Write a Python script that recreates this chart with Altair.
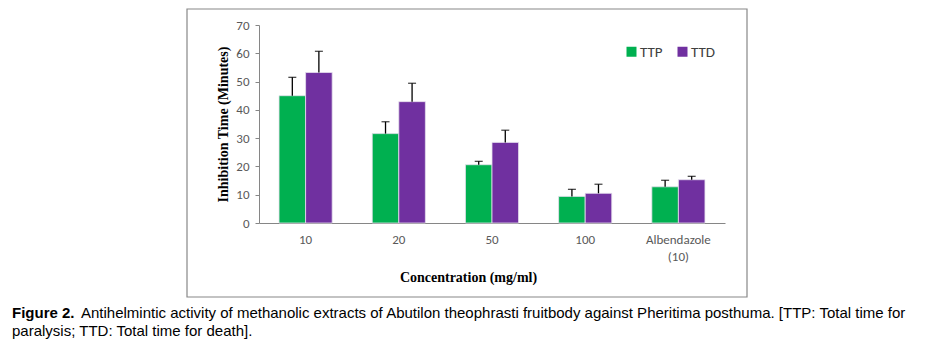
import altair as alt
import pandas as pd

categories = ["10", "20", "50", "100", "Albendazole (10)"]
series = ["TTP", "TTD"]
ttp = [45.0, 31.6, 20.6, 9.4, 12.8]
ttp_err = [6.5, 4.2, 1.2, 2.5, 2.3]
ttd = [53.2, 42.9, 28.5, 10.5, 15.3]
ttd_err = [7.5, 6.5, 4.3, 3.2, 1.2]
y_ticks = [0, 10, 20, 30, 40, 50, 60, 70]
colors = ["#00B050", "#7030A0"]

caption_bold = "Figure 2."
caption_line1 = ("Antihelmintic activity of methanolic extracts of Abutilon theophrasti "
                 "fruitbody against Pheritima posthuma. [TTP: Total time for")
caption_line2 = "paralysis; TTD: Total time for death]."

rows = []
for i, c in enumerate(categories):
    rows.append(dict(conc=c, series="TTP", value=ttp[i], upper=ttp[i] + ttp_err[i]))
    rows.append(dict(conc=c, series="TTD", value=ttd[i], upper=ttd[i] + ttd_err[i]))
df = pd.DataFrame(rows)

W, H = 466, 198
tick_font = "Carlito, Lato, Liberation Sans, sans-serif"
serif = "Liberation Serif, Times New Roman, serif"
cap_font = "Liberation Sans, Arial, sans-serif"

x_axis = alt.Axis(
    title="Concentration (mg/ml)", labelAngle=0, ticks=False,
    labelExpr="datum.value == 'Albendazole (10)' ? ['Albendazole', '(10)'] : datum.label",
    labelFont=tick_font, labelFontSize=13, labelColor="#595959",
    labelPadding=10, labelLineHeight=17,
    titleFont=serif, titleFontSize=14, titleFontWeight="bold", titleColor="#000000",
    titlePadding=7, titleX=209, titleAlign="center", domainColor="#868686",
)
x_scale = alt.Scale(paddingInner=0.43, paddingOuter=0.215)
y_axis = alt.Axis(
    title="Inhibition Time (Minutes)", values=y_ticks, tickCount=8, grid=False,
    labelOverlap=False, labelFlush=False,
    tickSize=4, tickColor="#868686", domainColor="#868686",
    labelFont=tick_font, labelFontSize=13, labelColor="#595959", labelPadding=6,
    titleFont=serif, titleFontSize=14, titleFontWeight="bold", titleColor="#000000",
    titlePadding=5,
)
y_scale = alt.Scale(domain=[0, 70], nice=False)

x_enc = alt.X("conc:N", sort=categories, scale=x_scale, axis=x_axis)
xo = alt.XOffset("series:N", sort=series, scale=alt.Scale(paddingInner=0, paddingOuter=0))

base = alt.Chart(df)
bars = base.mark_bar(stroke="#e6e0ee", strokeWidth=0.8).encode(
    x=x_enc, xOffset=xo,
    y=alt.Y("value:Q", scale=y_scale, axis=y_axis),
    color=alt.Color(
        "series:N", sort=series,
        scale=alt.Scale(domain=series, range=colors),
        legend=alt.Legend(
            title=None, orient="none", legendX=365, legendY=19, direction="horizontal",
            symbolType="square", symbolSize=100, symbolStrokeWidth=0,
            labelFont=tick_font, labelFontSize=15, labelColor="#404040",
            columnPadding=12, labelOffset=1, padding=0,
        ),
    ),
)
err = base.mark_rule(color="black", strokeWidth=1.3).encode(
    x=x_enc, xOffset=xo,
    y=alt.Y("value:Q", scale=y_scale, axis=y_axis), y2="upper:Q"
)
caps = base.mark_tick(color="black", thickness=1.3, size=8).encode(
    x=x_enc, xOffset=xo,
    y=alt.Y("upper:Q", scale=y_scale, axis=y_axis)
)

one = pd.DataFrame({"k": [0]})
box = alt.Chart(one).mark_rect(fill=None, stroke="#888888", strokeWidth=1.2).encode(
    x=alt.value(-72), x2=alt.value(488), y=alt.value(-16), y2=alt.value(272)
)
cap_b = alt.Chart(one).mark_text(
    text=caption_bold, font=cap_font, fontSize=15, fontWeight="bold",
    align="left", baseline="alphabetic", color="#000000"
).encode(x=alt.value(-247), y=alt.value(293))
cap_1 = alt.Chart(one).mark_text(
    text=caption_line1, font=cap_font, fontSize=15,
    align="left", baseline="alphabetic", color="#000000"
).encode(x=alt.value(-178), y=alt.value(293))
cap_2 = alt.Chart(one).mark_text(
    text=caption_line2, font=cap_font, fontSize=15,
    align="left", baseline="alphabetic", color="#000000"
).encode(x=alt.value(-247), y=alt.value(311))

chart = alt.layer(bars, err, caps, box, cap_b, cap_1, cap_2).properties(
    width=W, height=H,
    autosize=alt.AutoSizeParams(type="none"),
    padding={"left": 259, "top": 25, "right": 214, "bottom": 127},
    background="white",
).configure_view(stroke=None)

chart.save("out.html", embed_options={"renderer": "svg", "actions": False})
